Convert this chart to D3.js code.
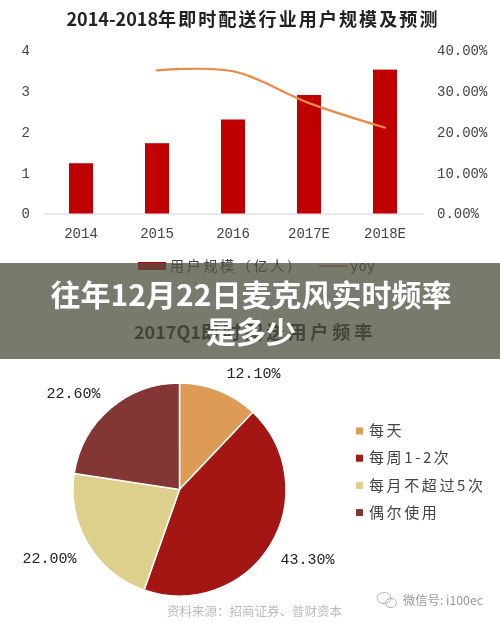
<!DOCTYPE html>
<html>
<head>
<meta charset="utf-8">
<script src="https://cdn.jsdelivr.net/npm/d3@7"></script>
<style>
    html, body { margin: 0; padding: 0; background: #fff; }
    svg { display: block; }
    .cjk { font-family: "Noto Sans CJK SC", sans-serif; }
    .num { font-family: "Liberation Mono", "DejaVu Sans Mono", monospace; }
</style>
</head>
<body>
<div id="chart"></div>
<script>
/* top chart data */
const years = ["2014", "2015", "2016", "2017E", "2018E"];
const users = [1.23, 1.72, 2.3, 2.9, 3.52];
const yoyYears = ["2015", "2016", "2017E", "2018E"];
const yoy = [0.35, 0.348, 0.27, 0.21];
const userTicks = [0, 1, 2, 3, 4];
const yoyTicks = [0, 0.1, 0.2, 0.3, 0.4];
const topLegend = ["用户规模（亿人）", "yoy"];

/* pie data */
const freqNames = ["每天", "每周1-2次", "每月不超过5次", "偶尔使用"];
const freqValues = [12.1, 43.3, 22.0, 22.6];
const freqColors = ["#dd9b55", "#a41614", "#dcd08c", "#833634"];

const width = 500, height = 623;

let svg = d3.select("#chart")
    .append("svg")
    .attr("width", width)
    .attr("height", height)
    .attr("viewBox", [0, 0, width, height]);

// the reference is a soft, upscaled image
let chart = svg.append("g").style("filter", "blur(0.45px)");

function title(cx, y, spacing, head, rest) {
    let t = chart.append("text")
        .attr("x", cx)
        .attr("y", y)
        .attr("text-anchor", "middle")
        .attr("class", "cjk")
        .attr("font-size", 18)
        .attr("font-weight", 700)
        .attr("fill", "#222");
    t.append("tspan").text(head);
    t.append("tspan").attr("letter-spacing", spacing).text(rest);
}

title(253, 26, 2.1, "2014-2018", "年即时配送行业用户规模及预测");
title(255, 339, 3.9, "2017Q1", "即时配送用户频率");

let x = d3.scaleBand()
    .domain(years)
    .range([43, 423]);

let y = d3.scaleLinear()
    .domain([0, 4])
    .range([213.5, 50]);

let yRight = d3.scaleLinear()
    .domain([0, 0.4])
    .range([213.5, 50]);

let xAxis = chart.append("g")
    .attr("transform", "translate(0,213.5)")
    .call(d3.axisBottom(x).tickSize(0).tickPadding(15));
xAxis.select(".domain").attr("stroke", "#e3e3e3").attr("stroke-width", 1.5);

let yAxis = chart.append("g")
    .attr("transform", "translate(36,0)")
    .call(d3.axisLeft(y).tickValues(userTicks).tickFormat(d3.format("d")).tickSize(0).tickPadding(6));
yAxis.select(".domain").remove();

let yAxisRight = chart.append("g")
    .attr("transform", "translate(431,0)")
    .call(d3.axisRight(yRight).tickValues(yoyTicks).tickFormat(d3.format(".2%")).tickSize(0).tickPadding(6));
yAxisRight.select(".domain").remove();

chart.selectAll(".tick text")
    .attr("class", "num")
    .attr("font-size", 14)
    .attr("fill", "#444");

chart.selectAll(".bar")
    .data(users)
    .join("rect")
    .attr("class", "bar")
    .attr("fill", "#c00000")
    .attr("x", (d, i) => x(years[i]) + x.bandwidth() / 2 - 12)
    .attr("width", 24)
    .attr("y", d => y(d))
    .attr("height", d => y(0) - y(d));

let line = d3.line()
    .x((d, i) => x(yoyYears[i]) + x.bandwidth() / 2)
    .y(d => yRight(d))
    .curve(d3.curveCatmullRom);

chart.append("path")
    .datum(yoy)
    .attr("fill", "none")
    .attr("stroke", "#ea8a45")
    .attr("stroke-width", 2.2)
    .attr("stroke-linecap", "round")
    .attr("d", line);

// legend under the chart, mostly behind the banner
chart.append("rect").attr("x", 138).attr("y", 262).attr("width", 28).attr("height", 8).attr("fill", "#c00000");
chart.append("text")
    .attr("x", 170).attr("y", 271)
    .attr("class", "cjk")
    .attr("font-size", 14)
    .attr("letter-spacing", 2.7)
    .attr("fill", "#444")
    .text(topLegend[0]);
chart.append("line")
    .attr("x1", 319).attr("x2", 347).attr("y1", 266).attr("y2", 266)
    .attr("stroke", "#ea8a45").attr("stroke-width", 2);
chart.append("text")
    .attr("x", 350).attr("y", 271)
    .attr("class", "num")
    .attr("font-size", 14)
    .attr("fill", "#444")
    .text(topLegend[1]);

// pie
let pie = d3.pie().sort(null).value(d => d);
let arc = d3.arc().innerRadius(0).outerRadius(106.5);
let pieG = chart.append("g").attr("transform", "translate(179.5,489.5)");

pieG.selectAll("path")
    .data(pie(freqValues))
    .join("path")
    .attr("d", arc)
    .attr("fill", (d, i) => freqColors[i])
    .attr("stroke", "#fff")
    .attr("stroke-width", 1.5);

// label offsets from the pie centre, by slice
const labelOffsets = [[74, -117], [128, 69], [-130, 68], [-106, -97]];

pieG.selectAll(".pct")
    .data(freqValues)
    .join("text")
    .attr("class", "pct num")
    .attr("x", (d, i) => labelOffsets[i][0])
    .attr("y", (d, i) => labelOffsets[i][1])
    .attr("dy", "0.35em")
    .attr("text-anchor", "middle")
    .attr("font-size", 15)
    .attr("fill", "#222")
    .text(d => d.toFixed(2) + "%");

let legend = chart.append("g")
    .selectAll("g")
    .data(freqNames)
    .join("g")
    .attr("transform", (d, i) => `translate(356,${431 + i * 27.2})`);

legend.append("rect")
    .attr("y", -3.5)
    .attr("width", 7)
    .attr("height", 7)
    .attr("fill", (d, i) => freqColors[i]);

legend.append("text")
    .attr("x", 13)
    .attr("dy", "0.35em")
    .attr("class", "cjk")
    .attr("font-size", 15)
    .attr("letter-spacing", 2.6)
    .attr("fill", "#444")
    .text(d => d);

// source + watermark
chart.append("text")
    .attr("x", 167).attr("y", 616)
    .attr("class", "cjk")
    .attr("font-size", 12.5)
    .attr("fill", "#bdbdbd")
    .text("资料来源：招商证券、普财资本");

let icon = chart.append("g")
    .attr("fill", "none")
    .attr("stroke", "#b5b5b5")
    .attr("stroke-width", 1);
icon.append("ellipse").attr("cx", 384).attr("cy", 598).attr("rx", 7).attr("ry", 5.5);
icon.append("ellipse").attr("cx", 391).attr("cy", 603).attr("rx", 5.5).attr("ry", 4.5);

chart.append("text")
    .attr("x", 403).attr("y", 605)
    .attr("class", "cjk")
    .attr("font-size", 12.3)
    .attr("fill", "#999")
    .text("微信号: i100ec");

// banner over the chart
svg.append("rect")
    .attr("x", 0).attr("y", 263)
    .attr("width", width).attr("height", 96)
    .attr("fill", "rgb(78,80,64)")
    .attr("fill-opacity", 0.76);

svg.selectAll(".banner")
    .data(["往年12月22日麦克风实时频率", "是多少"])
    .join("text")
    .attr("class", "banner cjk")
    .attr("x", 251)
    .attr("y", (d, i) => 306 + i * 37)
    .attr("text-anchor", "middle")
    .attr("font-size", 30)
    .attr("font-weight", 700)
    .attr("fill", "#fff")
    .text(d => d);
</script>
</body>
</html>
